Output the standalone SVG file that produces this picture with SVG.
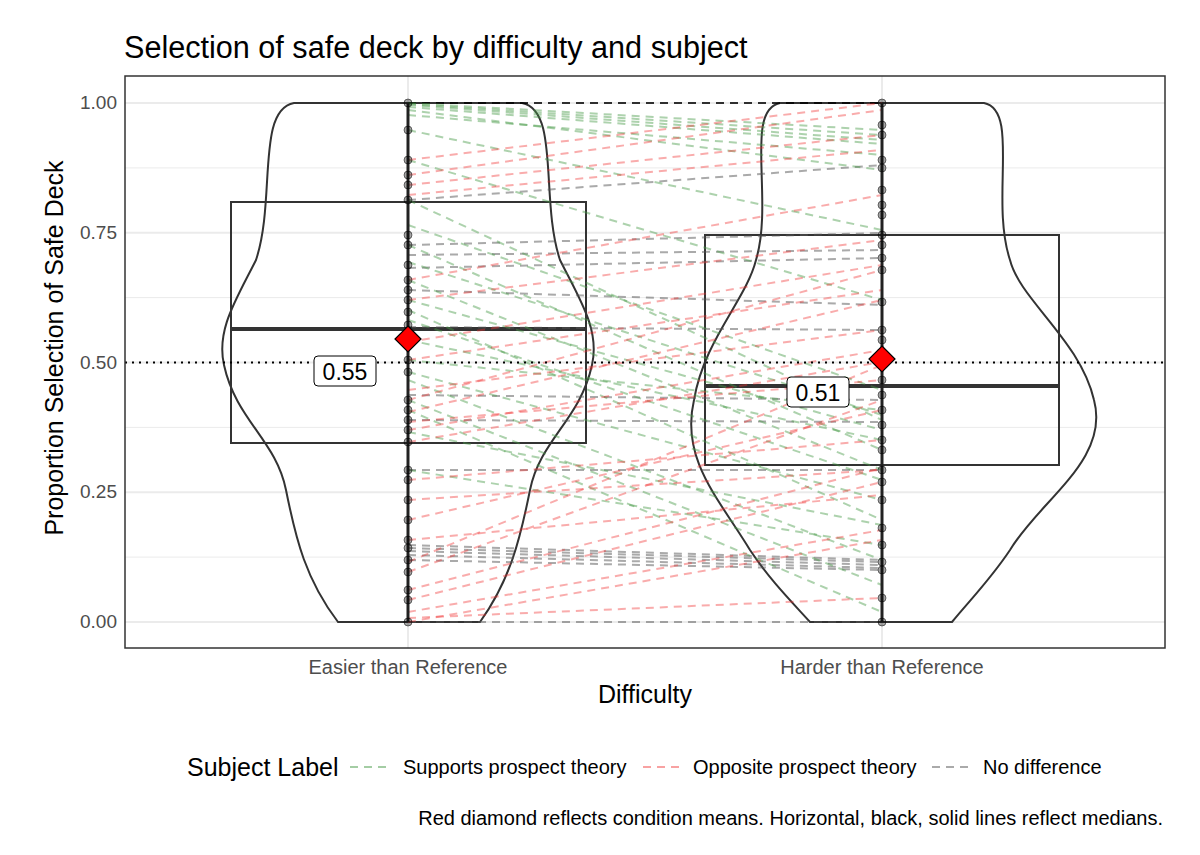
<svg xmlns="http://www.w3.org/2000/svg" width="1200" height="855" viewBox="0 0 1200 855">
<style>
text{font-family:"Liberation Sans",Arial,sans-serif}
.g{stroke:#ebebeb;stroke-width:1}
.gm{stroke:#ebebeb;stroke-width:2}
.ln line{stroke-width:2;stroke-dasharray:8 6}
.s{stroke:#4a9c4a;stroke-opacity:.45}
.o{stroke:#f03030;stroke-opacity:.4}
.n{stroke:#555;stroke-opacity:.5}
.pt circle{fill:#000;fill-opacity:.35;stroke:#000;stroke-opacity:.5}
.sh{fill:none;stroke:#333;stroke-width:2}
.tk{font-size:19px;fill:#4d4d4d}
.tx{font-size:20px}
</style>
<rect width="1200" height="855" fill="#fff"/>
<text x="124" y="58" font-size="30.6" fill="#000">Selection of safe deck by difficulty and subject</text>
<g id="grid">
<line class="g" x1="125" x2="1165" y1="167.9" y2="167.9"/><line class="g" x1="125" x2="1165" y1="297.6" y2="297.6"/><line class="g" x1="125" x2="1165" y1="427.4" y2="427.4"/><line class="g" x1="125" x2="1165" y1="557.1" y2="557.1"/>
<line class="gm" x1="125" x2="1165" y1="103" y2="103"/><line class="gm" x1="125" x2="1165" y1="232.8" y2="232.8"/><line class="gm" x1="125" x2="1165" y1="362.5" y2="362.5"/><line class="gm" x1="125" x2="1165" y1="492.3" y2="492.3"/><line class="gm" x1="125" x2="1165" y1="622" y2="622"/>
<line class="gm" x1="408" x2="408" y1="76" y2="648"/><line class="gm" x1="882" x2="882" y1="76" y2="648"/>
</g>
<g id="violins">
<path class="sh" d="M294,103 L522,103 C560,110 540,200 560,260 C580,300 600,330 592,365 C580,420 540,440 530,490 C520,540 510,580 480,622 L338,622 C306,580 296,540 286,490 C276,440 236,420 224,365 C216,330 236,300 256,260 C276,200 256,110 294,103 Z"/>
<path class="sh" d="M780,103 L984,103 C1020,110 990,200 1010,260 C1020,300 1080,340 1094,400 C1110,460 1040,500 1010,550 C990,580 970,600 952,622 L810,622 C790,600 770,580 750,550 C720,500 680,460 694,400 C704,340 746,300 756,260 C774,200 744,110 780,103 Z"/>
</g>
<g id="boxes">
<rect class="sh" x="231" y="202" width="355" height="241"/>
<line x1="231" x2="586" y1="329" y2="329" stroke="#333" stroke-width="4"/>
<rect class="sh" x="705" y="235" width="354" height="230"/>
<line x1="705" x2="1059" y1="386" y2="386" stroke="#333" stroke-width="4"/>
</g>
<g id="connectors" class="ln">
<line class="n" x1="408" y1="103" x2="882" y2="103" style="stroke:#000;stroke-opacity:.8"/>
<line class="n" x1="408" y1="245" x2="882" y2="233"/><line class="n" x1="408" y1="255" x2="882" y2="250"/><line class="n" x1="408" y1="268" x2="882" y2="258"/><line class="n" x1="408" y1="290" x2="882" y2="305"/><line class="n" x1="408" y1="327" x2="882" y2="330"/><line class="n" x1="408" y1="395" x2="882" y2="400"/><line class="n" x1="408" y1="420" x2="882" y2="422"/><line class="n" x1="408" y1="470" x2="882" y2="470"/><line class="n" x1="408" y1="545" x2="882" y2="560"/><line class="n" x1="408" y1="548" x2="882" y2="562"/><line class="n" x1="408" y1="551" x2="882" y2="565"/><line class="n" x1="408" y1="555" x2="882" y2="568"/><line class="n" x1="408" y1="560" x2="882" y2="570"/><line class="n" x1="408" y1="622" x2="882" y2="622"/><line class="n" x1="408" y1="200" x2="882" y2="165"/>
<line class="s" x1="408" y1="103" x2="882" y2="130"/><line class="s" x1="408" y1="104" x2="882" y2="135"/><line class="s" x1="408" y1="105" x2="882" y2="140"/><line class="s" x1="408" y1="107" x2="882" y2="144"/><line class="s" x1="408" y1="110" x2="882" y2="170"/><line class="s" x1="408" y1="115" x2="882" y2="155"/><line class="s" x1="408" y1="130" x2="882" y2="230"/><line class="s" x1="408" y1="160" x2="882" y2="300"/><line class="s" x1="408" y1="200" x2="882" y2="420"/><line class="s" x1="408" y1="225" x2="882" y2="390"/><line class="s" x1="408" y1="245" x2="882" y2="450"/><line class="s" x1="408" y1="262" x2="882" y2="415"/><line class="s" x1="408" y1="280" x2="882" y2="470"/><line class="s" x1="408" y1="300" x2="882" y2="430"/><line class="s" x1="408" y1="310" x2="882" y2="520"/><line class="s" x1="408" y1="320" x2="882" y2="480"/><line class="s" x1="408" y1="340" x2="882" y2="440"/><line class="s" x1="408" y1="360" x2="882" y2="410"/><line class="s" x1="408" y1="372" x2="882" y2="500"/><line class="s" x1="408" y1="380" x2="882" y2="560"/><line class="s" x1="408" y1="400" x2="882" y2="585"/><line class="s" x1="408" y1="410" x2="882" y2="612"/><line class="s" x1="408" y1="432" x2="882" y2="525"/><line class="s" x1="408" y1="470" x2="882" y2="545"/>
<line class="o" x1="408" y1="160" x2="882" y2="103"/><line class="o" x1="408" y1="175" x2="882" y2="110"/><line class="o" x1="408" y1="185" x2="882" y2="135"/><line class="o" x1="408" y1="195" x2="882" y2="150"/><line class="o" x1="408" y1="280" x2="882" y2="195"/><line class="o" x1="408" y1="300" x2="882" y2="240"/><line class="o" x1="408" y1="342" x2="882" y2="265"/><line class="o" x1="408" y1="360" x2="882" y2="290"/><line class="o" x1="408" y1="390" x2="882" y2="330"/><line class="o" x1="408" y1="400" x2="882" y2="270"/><line class="o" x1="408" y1="412" x2="882" y2="300"/><line class="o" x1="408" y1="422" x2="882" y2="380"/><line class="o" x1="408" y1="430" x2="882" y2="350"/><line class="o" x1="408" y1="442" x2="882" y2="362"/><line class="o" x1="408" y1="480" x2="882" y2="440"/><line class="o" x1="408" y1="500" x2="882" y2="470"/><line class="o" x1="408" y1="520" x2="882" y2="410"/><line class="o" x1="408" y1="540" x2="882" y2="495"/><line class="o" x1="408" y1="562" x2="882" y2="365"/><line class="o" x1="408" y1="572" x2="882" y2="400"/><line class="o" x1="408" y1="590" x2="882" y2="468"/><line class="o" x1="408" y1="600" x2="882" y2="482"/><line class="o" x1="408" y1="618" x2="882" y2="598"/><line class="o" x1="408" y1="622" x2="882" y2="540"/><line class="o" x1="408" y1="612" x2="882" y2="530"/>
</g>
<line x1="125" x2="1165" y1="362.5" y2="362.5" stroke="#000" stroke-width="2" stroke-dasharray="2 5"/>
<g id="points" class="pt">
<line x1="408" x2="408" y1="103" y2="622" stroke="#222" stroke-width="3"/>
<line x1="882" x2="882" y1="103" y2="622" stroke="#222" stroke-width="3"/>
<circle cx="408" cy="103" r="4"/><circle cx="408" cy="130" r="4"/><circle cx="408" cy="160" r="4"/><circle cx="408" cy="175" r="4"/><circle cx="408" cy="185" r="4"/><circle cx="408" cy="200" r="4"/><circle cx="408" cy="235" r="4"/><circle cx="408" cy="245" r="4"/><circle cx="408" cy="265" r="4"/><circle cx="408" cy="280" r="4"/><circle cx="408" cy="290" r="4"/><circle cx="408" cy="300" r="4"/><circle cx="408" cy="312" r="4"/><circle cx="408" cy="325" r="4"/><circle cx="408" cy="360" r="4"/><circle cx="408" cy="372" r="4"/><circle cx="408" cy="400" r="4"/><circle cx="408" cy="410" r="4"/><circle cx="408" cy="420" r="4"/><circle cx="408" cy="430" r="4"/><circle cx="408" cy="442" r="4"/><circle cx="408" cy="470" r="4"/><circle cx="408" cy="480" r="4"/><circle cx="408" cy="500" r="4"/><circle cx="408" cy="520" r="4"/><circle cx="408" cy="540" r="4"/><circle cx="408" cy="548" r="4"/><circle cx="408" cy="560" r="4"/><circle cx="408" cy="572" r="4"/><circle cx="408" cy="590" r="4"/><circle cx="408" cy="600" r="4"/><circle cx="408" cy="622" r="4"/>
<circle cx="882" cy="103" r="4"/><circle cx="882" cy="125" r="4"/><circle cx="882" cy="135" r="4"/><circle cx="882" cy="160" r="4"/><circle cx="882" cy="168" r="4"/><circle cx="882" cy="190" r="4"/><circle cx="882" cy="205" r="4"/><circle cx="882" cy="215" r="4"/><circle cx="882" cy="235" r="4"/><circle cx="882" cy="245" r="4"/><circle cx="882" cy="258" r="4"/><circle cx="882" cy="270" r="4"/><circle cx="882" cy="302" r="4"/><circle cx="882" cy="330" r="4"/><circle cx="882" cy="340" r="4"/><circle cx="882" cy="380" r="4"/><circle cx="882" cy="395" r="4"/><circle cx="882" cy="410" r="4"/><circle cx="882" cy="425" r="4"/><circle cx="882" cy="440" r="4"/><circle cx="882" cy="450" r="4"/><circle cx="882" cy="470" r="4"/><circle cx="882" cy="482" r="4"/><circle cx="882" cy="500" r="4"/><circle cx="882" cy="528" r="4"/><circle cx="882" cy="545" r="4"/><circle cx="882" cy="562" r="4"/><circle cx="882" cy="570" r="4"/><circle cx="882" cy="598" r="4"/><circle cx="882" cy="622" r="4"/>
</g>
<g id="means">
<path d="M408,326 L421,339 L408,352 L395,339 Z" fill="#f00" stroke="#000" stroke-width="1.2"/>
<path d="M882,346 L895,359 L882,372 L869,359 Z" fill="#f00" stroke="#000" stroke-width="1.2"/>
<rect x="314" y="356" width="62" height="30" rx="4" fill="#fff" stroke="#000"/>
<text x="345" y="380" font-size="23" text-anchor="middle">0.55</text>
<rect x="787" y="377" width="62" height="30" rx="4" fill="#fff" stroke="#000"/>
<text x="818" y="401" font-size="23" text-anchor="middle">0.51</text>
</g>
<rect x="125" y="76" width="1040" height="572" fill="none" stroke="#333" stroke-width="1.5"/>
<g id="axes" class="tk">
<text x="117" y="109" text-anchor="end">1.00</text><text x="117" y="239" text-anchor="end">0.75</text><text x="117" y="369" text-anchor="end">0.50</text><text x="117" y="498" text-anchor="end">0.25</text><text x="117" y="628" text-anchor="end">0.00</text>
<text class="tx" x="408" y="674" text-anchor="middle">Easier than Reference</text><text class="tx" x="882" y="674" text-anchor="middle">Harder than Reference</text>
</g>
<text x="645" y="703" font-size="25" text-anchor="middle">Difficulty</text>
<text transform="translate(63,348) rotate(-90)" font-size="25" text-anchor="middle">Proportion Selection of Safe Deck</text>
<g id="legend">
<text x="187" y="776" font-size="25">Subject Label</text>
<line x1="350" x2="390" y1="767" y2="767" stroke="#4a9c4a" stroke-opacity=".5" stroke-width="2" stroke-dasharray="8 6"/>
<text x="403" y="774" font-size="20">Supports prospect theory</text>
<line x1="643" x2="683" y1="767" y2="767" stroke="#f03030" stroke-opacity=".45" stroke-width="2" stroke-dasharray="8 6"/>
<text x="693" y="774" font-size="20">Opposite prospect theory</text>
<line x1="932" x2="972" y1="767" y2="767" stroke="#555" stroke-opacity=".5" stroke-width="2" stroke-dasharray="8 6"/>
<text x="983" y="774" font-size="20">No difference</text>
</g>
<text x="1163" y="825" font-size="20" text-anchor="end">Red diamond reflects condition means. Horizontal, black, solid lines reflect medians.</text>
</svg>
